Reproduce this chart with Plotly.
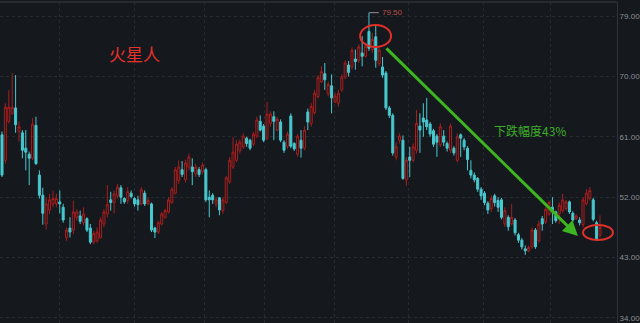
import plotly.graph_objects as go

opens = [61.3,57.5,63.3,64.5,65.3,61.8,61.6,59.3,58.4,57.8,
         62.7,55.3,52.3,48.0,50.1,51.0,51.0,51.3,50.5,46.0,
         47.4,47.1,49.0,49.2,48.2,48.8,47.4,45.3,45.5,46.0,
         48.0,49.5,51.6,51.2,52.2,53.4,51.8,51.5,52.6,51.8,
         51.6,51.0,52.6,51.0,51.0,47.4,46.8,48.0,49.0,49.8,
         51.2,52.6,54.5,56.1,54.6,56.5,56.5,55.5,56.1,55.8,
         56.1,52.0,52.3,51.0,51.9,50.0,51.2,54.3,56.5,57.5,
         58.9,59.5,60.8,60.5,59.9,61.1,63.3,62.6,60.8,63.0,
         64.0,62.0,63.2,60.2,59.6,64.1,60.0,58.4,60.5,59.3,
         64.7,63.0,64.6,67.0,69.2,70.4,67.4,68.6,66.2,66.0,
         68.0,69.9,71.7,71.4,72.6,72.4,73.5,73.0,76.7,74.0,
         75.9,71.9,71.4,70.5,65.3,64.2,58.0,60.5,60.5,54.6,
         58.0,57.5,59.0,62.6,63.8,63.5,62.9,61.9,61.1,59.8,
         61.1,60.0,59.0,59.3,57.5,61.3,60.5,59.3,56.0,55.3,
         54.8,53.2,52.6,51.1,50.3,52.2,51.5,51.6,48.0,49.0,
         48.0,48.6,46.4,45.6,44.3,44.0,44.6,47.1,45.5,48.8,
         48.3,49.5,50.5,49.8,49.5,50.0,50.3,51.3,49.6,48.8,
         48.6,47.9,51.0,51.8,51.6,48.2,46.3]

closes = [55.3,65.4,65.4,65.4,62.8,62.5,59.0,58.7,57.8,62.9,
          57.0,52.3,49.6,51.0,51.6,51.8,51.8,51.0,48.6,47.1,
          46.8,49.8,49.8,48.4,49.5,47.1,45.3,46.6,46.8,48.6,
          49.8,50.9,51.2,52.5,53.5,52.0,51.3,52.8,52.1,51.0,
          50.9,53.1,51.0,51.5,47.1,46.8,48.2,49.5,50.0,51.6,
          53.2,56.1,56.5,55.4,57.1,58.0,55.8,56.5,55.4,56.8,
          51.6,51.6,51.6,51.6,50.1,51.6,54.9,57.5,58.7,59.9,
          60.2,61.1,60.0,59.3,61.4,63.5,62.0,60.5,64.4,64.4,
          63.3,63.6,60.5,59.0,61.4,59.6,59.2,61.1,59.3,62.0,
          63.2,65.5,67.5,69.8,70.7,69.5,68.8,66.8,67.1,67.5,
          69.9,72.0,70.6,73.9,72.2,74.4,73.0,74.5,74.2,75.5,
          72.4,73.9,70.2,65.3,64.2,58.6,59.5,61.1,54.8,57.5,
          57.5,59.5,63.0,62.0,63.2,62.5,61.4,59.9,60.2,62.5,
          60.2,59.3,62.6,58.6,61.0,60.8,59.5,57.6,55.3,54.6,
          53.2,52.2,51.2,50.1,51.8,51.2,50.5,49.0,50.0,47.6,
          49.0,46.7,45.6,44.6,44.0,44.5,47.1,44.6,48.0,48.0,
          50.2,51.2,49.8,48.5,50.8,51.6,51.3,49.8,48.6,49.2,
          48.2,51.6,52.6,53.0,48.7,45.8,47.5]

highs = [61.8,66.0,68.0,70.5,70.2,63.3,62.0,62.0,58.8,63.8,
         64.0,56.0,53.4,52.0,52.5,53.0,52.5,53.0,51.0,47.5,
         49.0,51.5,50.2,50.0,50.5,49.0,48.0,47.0,47.5,49.0,
         50.2,53.8,52.8,53.0,54.0,53.8,52.0,53.5,53.0,52.0,
         52.2,53.5,53.0,52.0,51.2,47.6,48.5,49.8,50.3,52.0,
         53.5,56.5,57.5,57.4,57.6,58.5,57.8,57.0,56.5,57.2,
         56.4,53.0,52.6,52.0,52.0,52.0,55.2,58.0,61.0,60.5,
         60.6,61.5,61.0,60.7,61.7,64.0,64.2,62.9,66.2,64.8,
         64.8,64.0,63.6,60.5,61.8,64.5,60.2,61.4,62.0,62.6,
         65.2,66.0,68.0,70.2,71.5,72.0,69.2,70.3,67.5,68.0,
         70.3,72.4,72.3,74.3,74.0,74.8,76.0,75.0,79.5,76.5,
         77.7,74.3,72.9,70.8,65.6,64.5,60.2,61.5,61.2,58.0,
         59.5,60.0,65.0,64.5,66.0,66.8,63.2,62.2,61.4,63.0,
         62.0,60.3,63.0,59.6,61.5,61.5,60.8,59.6,57.5,55.7,
         55.0,53.5,52.9,51.4,52.3,52.5,52.0,51.9,50.5,49.3,
         51.0,48.9,46.7,45.9,44.8,44.8,47.5,47.4,48.5,49.2,
         50.5,51.5,52.0,50.0,51.2,52.5,51.6,51.5,49.9,49.5,
         49.0,52.0,53.2,53.5,51.9,48.5,49.3]

lows = [55.0,57.0,63.0,64.3,61.6,60.3,57.8,56.0,53.8,57.5,
        56.8,51.8,47.9,47.2,49.5,50.5,50.5,49.6,48.2,45.5,
        46.0,46.5,48.5,48.0,47.8,46.8,45.0,45.0,45.2,45.8,
        47.5,49.0,50.0,49.6,51.8,51.0,51.0,51.0,51.8,50.6,
        50.0,50.8,50.7,50.8,46.8,45.9,46.5,47.8,48.8,49.6,
        51.0,52.4,54.0,55.0,54.2,56.0,53.8,55.0,55.0,55.4,
        51.3,49.0,51.0,50.5,49.3,49.5,51.0,54.0,56.2,57.2,
        58.5,59.2,59.5,59.0,59.6,60.8,61.8,60.2,60.5,62.5,
        60.5,61.8,60.2,58.6,59.2,59.3,58.9,58.0,57.9,59.0,
        62.0,62.5,64.3,66.7,69.0,68.0,67.0,64.5,66.0,65.5,
        67.7,69.6,70.0,71.0,71.0,72.0,71.5,72.8,73.8,73.5,
        71.3,71.5,69.8,65.0,63.8,58.2,57.5,60.0,54.6,53.7,
        55.0,57.2,58.5,58.6,61.0,62.0,61.0,59.5,58.0,59.5,
        59.6,58.8,58.6,58.2,57.2,58.0,59.0,56.0,54.8,54.2,
        52.8,51.6,50.8,49.5,49.8,50.6,49.8,48.7,47.6,47.0,
        47.8,46.3,45.2,44.2,43.4,43.8,44.3,44.3,45.2,47.0,
        48.0,49.2,48.0,48.2,48.0,49.7,50.0,49.5,48.3,48.6,
        47.8,47.5,50.8,51.5,48.4,45.5,46.0]

y_ticks = [34, 43, 52, 61, 70, 79]
y_labels = ["34.00", "43.00", "52.00", "61.00", "70.00", "79.00"]
x_grid = [16.8, 39.1, 59.7, 77.4, 98.0, 119.5, 141.6, 161.3]

title_text = "火星人"
drop_text = "下跌幅度43%"
peak_text = "79.50"

idx = list(range(len(opens)))
BG = "#15181d"
GRID = "#262a31"

fig = go.Figure(go.Candlestick(
    x=idx, open=opens, high=highs, low=lows, close=closes,
    increasing=dict(line=dict(color="#a81e1e", width=1), fillcolor="rgba(0,0,0,0)"),
    decreasing=dict(line=dict(color="#47c9cf", width=1), fillcolor="#47c9cf"),
    whiskerwidth=0, hoverinfo="skip"))

fig.update_layout(
    width=640, height=323,
    margin=dict(l=0, r=23, t=2, b=0),
    paper_bgcolor=BG, plot_bgcolor=BG, showlegend=False,
    boxgap=0.15,
    xaxis=dict(range=[-0.59, 181.0], rangeslider=dict(visible=False),
               showticklabels=False, tickvals=x_grid, showgrid=True,
               gridcolor=GRID, griddash="dot", zeroline=False, showline=False, ticks=""),
    yaxis=dict(side="right", range=[33.25, 81.09], tickvals=y_ticks, ticktext=y_labels,
               tickfont=dict(size=8, color="#8b9099", family="Arial"),
               showgrid=True, gridcolor=GRID, griddash="dot", zeroline=False,
               showline=True, linecolor="#2e323a", ticks=""),
    shapes=[
        dict(type="line", xref="paper", yref="paper", x0=0, x1=1, y0=1, y1=1,
             line=dict(color="#3a3e46", width=1)),
        dict(type="circle", xref="x", yref="y", x0=105.4, x1=114.5, y0=74.38, y1=77.66,
             line=dict(color="#e0302a", width=2)),
        dict(type="circle", xref="x", yref="y", x0=171.0, x1=179.8, y0=45.62, y1=47.86,
             line=dict(color="#e0302a", width=2)),
        dict(type="line", xref="x", yref="y", x0=108, x1=110.9, y0=79.5, y1=79.5,
             line=dict(color="#8a8f98", width=1)),
    ],
    annotations=[
        dict(xref="paper", yref="paper", x=0.2188, y=0.841, xanchor="center", yanchor="middle",
             text=title_text, showarrow=False,
             font=dict(size=17, color="#e5322b", family="Noto Sans CJK SC")),
        dict(xref="paper", yref="paper", x=0.859, y=0.601, xanchor="center", yanchor="middle",
             text=drop_text, showarrow=False,
             font=dict(size=12, color="#3dae2b", family="Noto Sans CJK SC")),
        dict(xref="x", yref="y", x=111.1, y=79.5, text=peak_text, showarrow=False,
             xanchor="left", font=dict(size=8, color="#b8504a", family="Arial")),
        dict(xref="x", yref="y", x=169.5, y=46.2, ax=112.7, ay=74.4, axref="x", ayref="y",
             text="", showarrow=True, arrowhead=2, arrowwidth=3, arrowsize=1,
             arrowcolor="#3cb521"),
    ],
)

fig.write_html("out.html")
